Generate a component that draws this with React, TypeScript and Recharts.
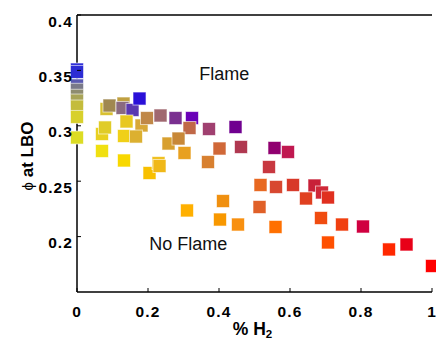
import React from 'react';
import { ScatterChart, Scatter, XAxis, YAxis, Cell, ReferenceDot } from 'recharts';

// fraction of H2 in the fuel, equivalence ratio at lean blow-off
const h2Frac = [
  0, 0, 0, 0, 0, 0, 0, 0, 0,
  0.0704, 0.0789, 0.0831, 0.0915, 0.131, 0.1282, 0.1563, 0.1761, 0.1394, 0.1817,
  0.1972, 0.2352, 0.2775, 0.3239, 0.3169, 0.1324, 0.1662, 0.0704, 0.1324, 0.2577,
  0.2859, 0.3028, 0.2042, 0.2296, 0.2324, 0.3099, 0.3718, 0.4465, 0.4014, 0.462,
  0.369, 0.5563, 0.5944, 0.5408, 0.5169, 0.5606, 0.6085, 0.669, 0.6901, 0.6451,
  0.707, 0.4113, 0.4028, 0.4535, 0.5141, 0.5592, 0.6873, 0.7465, 0.8056, 0.707,
  0.9282, 0.8789, 1.0,
];
const phiLbo = [
  0.3508, 0.3486, 0.3364, 0.3325, 0.3271, 0.3228, 0.3174, 0.308, 0.2894,
  0.2926, 0.2985, 0.3152, 0.3183, 0.3201, 0.3161, 0.3143, 0.3246, 0.3039, 0.3003,
  0.307, 0.3093, 0.307, 0.307, 0.298, 0.2908, 0.2903, 0.2773, 0.2687, 0.284,
  0.2885, 0.2755, 0.2574, 0.2664, 0.2637, 0.2236, 0.2971, 0.2989, 0.2795, 0.2809,
  0.2673, 0.28, 0.2764, 0.2628, 0.2466, 0.2448, 0.2466, 0.2461, 0.2398, 0.2344,
  0.2353, 0.2321, 0.2154, 0.2109, 0.2267, 0.2087, 0.2168, 0.2109, 0.2091, 0.1947,
  0.1929, 0.1884, 0.1735,
];
const pointColors = [
  '#2a2ad8', '#2c2cd4', '#5a5ab0', '#7a7a88', '#8e8c70', '#a8a458', '#c4bc3c', '#d8d02c', '#dcdc24',
  '#e8d020', '#e0cc28', '#d8c030', '#a08850', '#c0a040', '#8a6a80', '#5a38b0', '#2a10d8', '#e8c820', '#d8a838',
  '#c08848', '#a06870', '#7a3090', '#6a00b8', '#c06848', '#f0d018', '#dcb030', '#f0e010', '#f8d800', '#d8a030',
  '#c88838', '#e8a020', '#f8c000', '#f0c020', '#f0b818', '#ffb000', '#a04070', '#700090', '#d06838', '#b03850',
  '#d88030', '#900070', '#c01850', '#c83840', '#e86820', '#d84830', '#d83828', '#c82038', '#d02838', '#e04020',
  '#e03020', '#f09010', '#f89800', '#f89010', '#e06028', '#ff7000', '#f04c10', '#f04010', '#d00040', '#ff5000',
  '#e80018', '#ff2800', '#ff0000',
];

const xTicks = [0, 0.2, 0.4, 0.6, 0.8, 1];
const yTicks = [0.2, 0.25, 0.3, 0.35, 0.4];

const notes = [
  { x: 0.3445, y: 0.3413, text: 'Flame' },
  { x: 0.2037, y: 0.1879, text: 'No Flame' },
];

const data = h2Frac.map((x, i) => ({ x, y: phiLbo[i] }));

const FONT = '"Liberation Sans", Arial, Helvetica, sans-serif';
const tickFont = { fontFamily: FONT, fontWeight: 700, fontSize: 15.5, letterSpacing: 1.1, fill: '#000' };

function BottomTick({ x, y, payload }: any) {
  return (
    <g>
      <line x1={x} x2={x} y1={y} y2={y - 4} stroke="#000" />
      <text x={x} y={y + 25} textAnchor="middle" {...tickFont}>{String(payload.value)}</text>
    </g>
  );
}

function TopTick({ x, y }: any) {
  return <line x1={x} x2={x} y1={y} y2={y + 4} stroke="#000" />;
}

function LeftTick({ x, y, payload }: any) {
  return (
    <g>
      <line x1={x} x2={x + 4} y1={y} y2={y} stroke="#000" />
      <text x={x - 4} y={y + 11.5} textAnchor="end" {...tickFont}>{String(payload.value)}</text>
    </g>
  );
}

function RightTick({ x, y }: any) {
  return <line x1={x} x2={x - 4} y1={y} y2={y} stroke="#000" />;
}

function XTitle({ viewBox }: any) {
  const cx = viewBox.x + viewBox.width / 2 - 2;
  return (
    <text x={cx} y={viewBox.y + 43} textAnchor="middle" fontFamily={FONT} fontWeight={700} fontSize={17.5}>
      % H<tspan fontSize={11.5} dy={3}>2</tspan>
    </text>
  );
}

function YTitle({ viewBox }: any) {
  const px = 33;
  const py = viewBox.y + 141;
  return (
    <text x={px} y={py} transform={`rotate(-90, ${px}, ${py})`} textAnchor="middle" fontFamily={FONT} fontWeight={700} fontSize={17}>
      <tspan fontWeight={400} fontSize={15}>ϕ</tspan> at LBO
    </text>
  );
}

function Square(props: any) {
  const { cx, cy, fill } = props;
  return <rect x={cx - 6.5} y={cy - 6.5} width={13} height={13} fill={fill} stroke="#fff" strokeOpacity={0.6} strokeWidth={1} />;
}

export default function App() {
  return (
    <div style={{ position: 'fixed', left: 0, top: 0, background: '#fff' }}>
      <ScatterChart width={436} height={342} margin={{ top: 0, right: 0, bottom: 0, left: 0 }}>
        <XAxis
          dataKey="x"
          type="number"
          domain={[0, 1]}
          ticks={xTicks}
          height={50}
          axisLine={{ stroke: '#000', strokeWidth: 1.5 }}
          tickLine={false}
          tickSize={0}
          tickMargin={0}
          tick={<BottomTick />}
          label={(p: any) => <XTitle {...p} />}
        />
        <XAxis
          xAxisId="top"
          orientation="top"
          dataKey="x"
          type="number"
          domain={[0, 1]}
          ticks={xTicks}
          height={15}
          axisLine={{ stroke: '#000', strokeWidth: 1.5 }}
          tickLine={false}
          tickSize={0}
          tickMargin={0}
          tick={<TopTick />}
        />
        <YAxis
          dataKey="y"
          type="number"
          domain={[0.15, 0.4]}
          ticks={yTicks}
          width={77}
          axisLine={{ stroke: '#000', strokeWidth: 1.5 }}
          tickLine={false}
          tickSize={0}
          tickMargin={0}
          tick={<LeftTick />}
          label={(p: any) => <YTitle {...p} />}
        />
        <YAxis
          yAxisId="right"
          orientation="right"
          dataKey="y"
          type="number"
          domain={[0.15, 0.4]}
          ticks={yTicks}
          width={4}
          axisLine={false}
          tickLine={false}
          tickSize={0}
          tickMargin={0}
          tick={<RightTick />}
        />
        <Scatter data={data} shape={<Square />} isAnimationActive={false}>
          {data.map((_, i) => (
            <Cell key={i} fill={pointColors[i]} />
          ))}
        </Scatter>
        {notes.map(n => (
          <ReferenceDot
            key={n.text}
            x={n.x}
            y={n.y}
            r={0}
            shape={(p: any) => (
              <text x={p.cx} y={p.cy} fontFamily={FONT} fontSize={18} fill="#111">{n.text}</text>
            )}
          />
        ))}
      </ScatterChart>
    </div>
  );
}
